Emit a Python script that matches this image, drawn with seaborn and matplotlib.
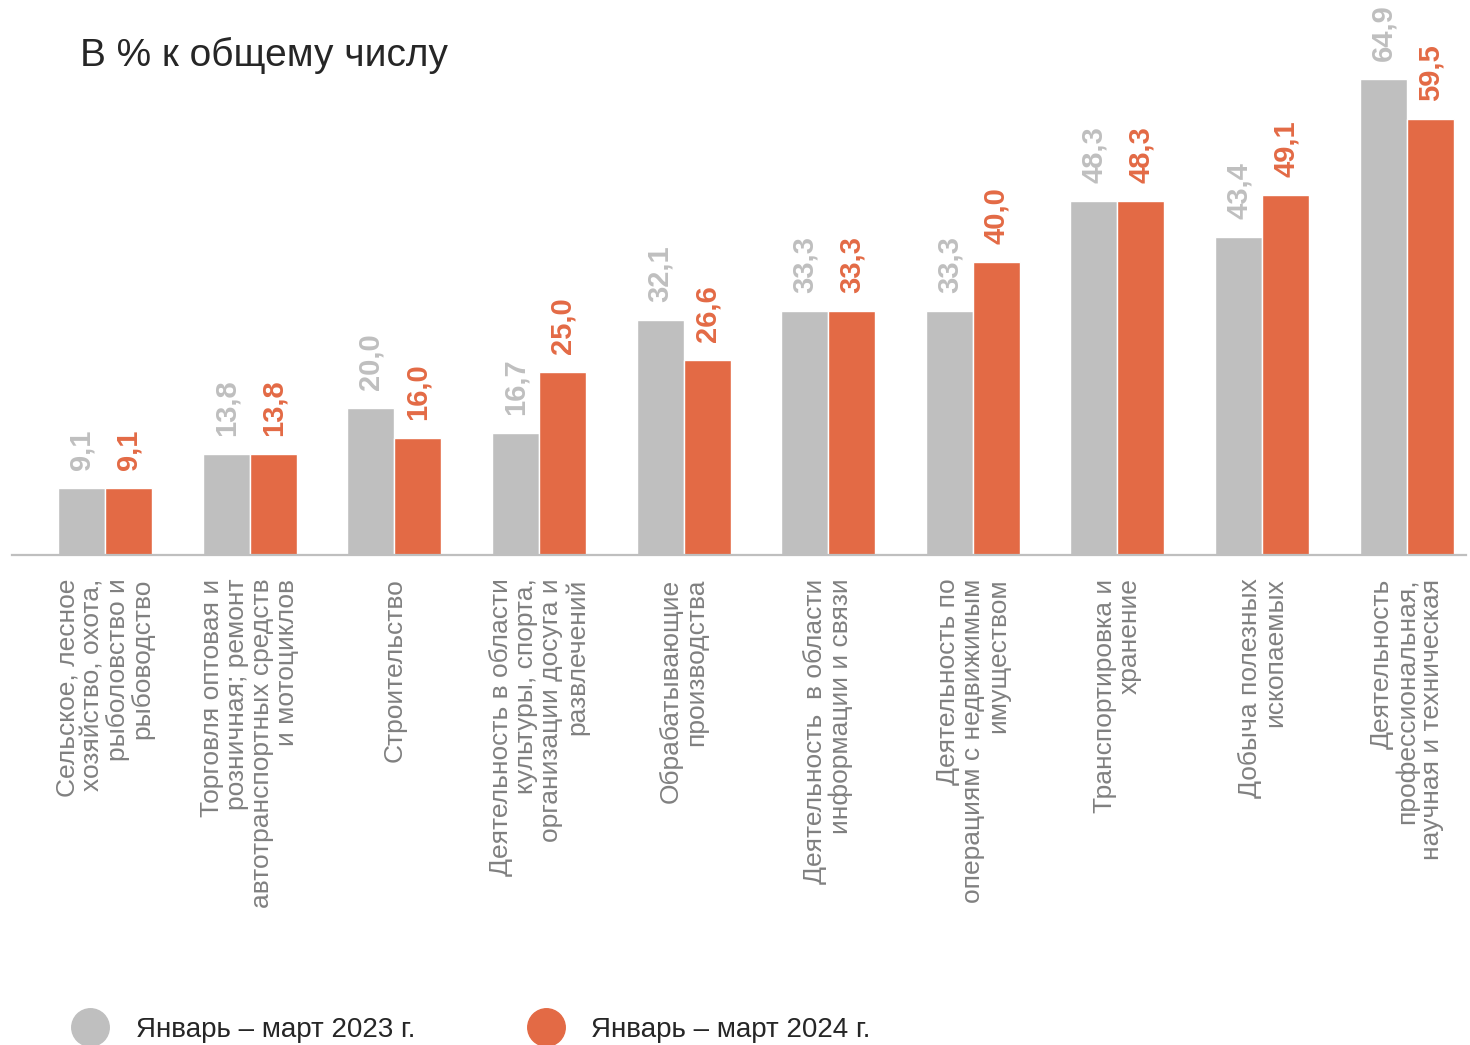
import seaborn as sns
import matplotlib.pyplot as plt
import pandas as pd
from matplotlib.lines import Line2D

categories = [
    "Сельское, лесное\nхозяйство, охота,\nрыболовство и\nрыбоводство",
    "Торговля оптовая и\nрозничная; ремонт\nавтотранспортных средств\nи мотоциклов",
    "Строительство",
    "Деятельность в области\nкультуры, спорта,\nорганизации досуга и\nразвлечений",
    "Обрабатывающие\nпроизводства",
    "Деятельность  в области\nинформации и связи",
    "Деятельность по\nоперациям с недвижимым\nимуществом",
    "Транспортировка и\nхранение",
    "Добыча полезных\nископаемых",
    "Деятельность\nпрофессиональная,\nнаучная и техническая",
]
values_2023 = [9.1, 13.8, 20.0, 16.7, 32.1, 33.3, 33.3, 48.3, 43.4, 64.9]
values_2024 = [9.1, 13.8, 16.0, 25.0, 26.6, 33.3, 40.0, 48.3, 49.1, 59.5]
series = ["Январь – март 2023 г.", "Январь – март 2024 г."]
title = "В % к общему числу"

GRAY = "#BFBFBF"
ORANGE = "#E36A45"
LABEL_GRAY = "#808080"
DARK = "#262626"

df = pd.DataFrame({
    "cat": categories * 2,
    "val": values_2023 + values_2024,
    "series": [series[0]] * len(categories) + [series[1]] * len(categories),
})

sns.set_theme(style="white")
plt.rcParams["font.family"] = ["Liberation Sans", "DejaVu Sans"]

W, H = 1470, 1045
fig = plt.figure(figsize=(W / 100, H / 100), dpi=100)
ax = fig.add_axes([12 / W, (H - 555) / H, 1454 / W, (555 - 42) / H])

sns.barplot(data=df, x="cat", y="val", hue="series", order=categories,
            hue_order=series, palette=[GRAY, ORANGE], width=0.65,
            saturation=1, ax=ax, legend=False)

ax.set_ylim(0, 70)
ax.set_xlim(-0.643, 9.41)
ax.set_xlabel("")
ax.set_ylabel("")
ax.set_yticks([])
for s in ["top", "right", "left"]:
    ax.spines[s].set_visible(False)
ax.spines["bottom"].set_color(GRAY)
ax.spines["bottom"].set_linewidth(1.6)

ax.tick_params(axis="x", length=0, pad=17)
ax.set_xticks(range(len(categories)))
ax.set_xticklabels(categories, rotation=90, fontsize=19, color=LABEL_GRAY,
                   linespacing=1.06)
for lab in ax.get_xticklabels():
    lab.set_multialignment("right")
    lab.set_ha("center")
    lab.set_va("top")

# value labels
for cont, vals, col in zip(ax.containers, [values_2023, values_2024],
                           [GRAY, ORANGE]):
    for bar, v in zip(cont, vals):
        ax.annotate(f"{v:.1f}".replace(".", ","),
                    (bar.get_x() + bar.get_width() / 2, v),
                    xytext=(0, 13), textcoords="offset points",
                    rotation=90, ha="center", va="bottom",
                    fontsize=21, color=col, fontweight="bold")

fig.text(80 / W, 1 - 55 / H, title, fontsize=28, color=DARK,
         ha="left", va="center")

handles = [Line2D([], [], marker="o", ls="", markersize=27, color=c)
           for c in (GRAY, ORANGE)]
fig.legend(handles, series, loc="center left",
           bbox_to_anchor=(62 / W, 1 - 1030 / H), ncol=2, frameon=False,
           prop={"family": ["Liberation Sans Narrow", "Liberation Sans"],
                 "size": 20},
           labelcolor=DARK, handletextpad=0.65, columnspacing=3.7,
           borderaxespad=0, borderpad=0)

fig.savefig("out.png", dpi=100)
